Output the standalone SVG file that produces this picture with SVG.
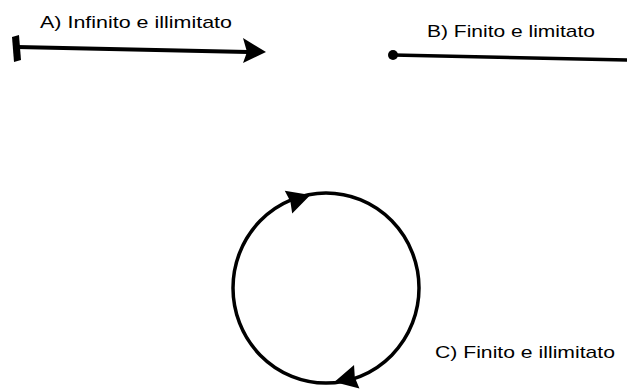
<svg xmlns="http://www.w3.org/2000/svg" xmlns:xlink="http://www.w3.org/1999/xlink" width="627" height="392" viewBox="0 0 627 392">
<style>
.lbl{font-family:"Liberation Sans",Arial,sans-serif;font-size:17px;fill:#000}
.ln{stroke:#000;fill:none;stroke-linecap:round}
</style>
<defs>
<path id="ah" d="M13,0 L-10,-12 L-8,0 L-10,12 Z" fill="#000"/>
</defs>
<rect width="627" height="392" fill="#fff"/>
<g id="labels">
<text class="lbl" x="40" y="28" textLength="192" lengthAdjust="spacingAndGlyphs">A) Infinito e illimitato</text>
<text class="lbl" x="427" y="37" textLength="168" lengthAdjust="spacingAndGlyphs">B) Finito e limitato</text>
<text class="lbl" x="435" y="358" textLength="180" lengthAdjust="spacingAndGlyphs">C) Finito e illimitato</text>
</g>
<g id="connectors">
<g id="lineA">
<line class="ln" x1="17" y1="47" x2="248" y2="52" stroke-width="4"/>
<path d="M12,37 L19,35 L21,60 L14,62 Z" fill="#000"/>
<polygon points="243,38 266,52 243,63 247,52" fill="#000"/>
</g>
<g id="lineB">
<line class="ln" x1="393" y1="55" x2="627" y2="60" stroke-width="3.5"/>
<circle cx="393" cy="55" r="5" fill="#000"/>
</g>
<g id="circleC">
<ellipse class="ln" cx="326" cy="288" rx="93" ry="95" stroke-width="3.5"/>
<use xlink:href="#ah" transform="translate(298,199) rotate(-18)"/>
<use xlink:href="#ah" transform="translate(347,379) rotate(167)"/>
</g>
</g>
</svg>
